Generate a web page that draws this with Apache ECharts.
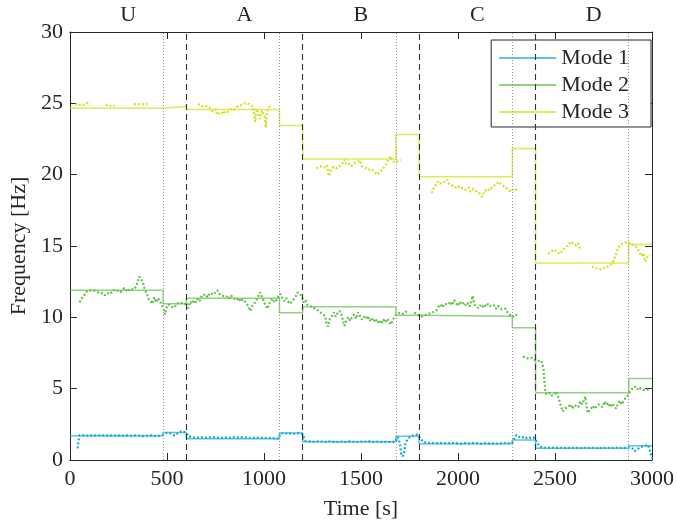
<!DOCTYPE html>
<html>
<head>
<meta charset="utf-8">
<script src="https://cdn.jsdelivr.net/npm/echarts@6/dist/echarts.min.js"></script>
<style>
  html, body { margin: 0; padding: 0; background: #fff; }
  #chart { width: 677px; height: 526px; }
</style>
</head>
<body>
<div id="chart"></div>
<script>
// Region labels along the top, one per 600 s block
const regionLabels = ['U', 'A', 'B', 'C', 'D'];

// Start time of each model segment [s]; the last one runs to the end of the record
const segmentStarts = [0, 480, 600, 1080, 1200, 1680, 1800, 2280, 2400, 2880];
const endTime = 3000;

// Model frequencies per segment [Hz]
const mode1Model = [1.70, 1.92, 1.49, 1.90, 1.28, 1.66, 1.14, 1.40, 0.82, 1.00];
const mode2Model = [11.89, 10.96, 11.33, 10.32, 10.75, 10.14, 10.07, 9.27, 4.72, 5.72];
const mode3Model = [24.66, 24.78, 24.57, 23.45, 21.10, 22.82, 19.86, 21.84, 13.80, 15.10];

// Region boundaries
const dashedLines = [600, 1200, 1800, 2400];
const dottedLines = [480, 1080, 1680, 2280, 2880];

// Identified frequencies [time s, Hz]; '-' marks gaps in the record
const mode1Measured = [
  [40, 0.82], [48, 1.72], [60, 1.74], [80, 1.72], [100, 1.70], [120, 1.73], [140, 1.71], [160, 1.74],
  [180, 1.72], [200, 1.70], [220, 1.73], [240, 1.71], [260, 1.72], [280, 1.69], [300, 1.72], [320, 1.70],
  [340, 1.73], [360, 1.71], [380, 1.68], [400, 1.70], [420, 1.72], [440, 1.69], [460, 1.70], [480, 1.75],
  [490, 1.85], [500, 1.90], [510, 1.92], [520, 1.86], [530, 1.74], [540, 1.72], [550, 1.85], [560, 1.92],
  [570, 1.98], [580, 2.03], [590, 1.96], [600, 1.90], [610, 1.65], [620, 1.60], [640, 1.58], [660, 1.57],
  [680, 1.59], [700, 1.56], [720, 1.58], [740, 1.60], [760, 1.57], [780, 1.55], [800, 1.58], [820, 1.56],
  [840, 1.59], [860, 1.57], [880, 1.60], [900, 1.58], [920, 1.56], [940, 1.55], [960, 1.58], [980, 1.56],
  [1000, 1.54], [1020, 1.55], [1040, 1.53], [1060, 1.52], [1075, 1.50], [1085, 1.85], [1100, 1.88], [1120, 1.86],
  [1140, 1.87], [1160, 1.85], [1180, 1.88], [1195, 1.86], [1205, 1.60], [1215, 1.33], [1240, 1.30], [1260, 1.28],
  [1280, 1.31], [1300, 1.29], [1320, 1.27], [1340, 1.30], [1360, 1.28], [1380, 1.26], [1400, 1.29], [1420, 1.27],
  [1440, 1.30], [1460, 1.28], [1480, 1.26], [1500, 1.29], [1520, 1.28], [1540, 1.30], [1560, 1.27], [1580, 1.29],
  [1600, 1.27], [1620, 1.28], [1640, 1.26], [1660, 1.26], [1680, 1.30], [1690, 1.60], [1700, 1.20], [1708, 0.40],
  [1715, 0.25], [1722, 0.50], [1730, 1.20], [1740, 1.45], [1750, 1.60], [1760, 1.70], [1775, 1.75], [1790, 1.78],
  [1800, 1.65], [1810, 1.45], [1820, 1.28], [1840, 1.20], [1860, 1.18], [1880, 1.20], [1900, 1.17], [1920, 1.19],
  [1940, 1.16], [1960, 1.18], [1980, 1.20], [2000, 1.17], [2020, 1.15], [2040, 1.18], [2060, 1.16], [2080, 1.19],
  [2100, 1.17], [2120, 1.15], [2140, 1.18], [2160, 1.16], [2180, 1.17], [2200, 1.15], [2220, 1.17], [2240, 1.18],
  [2260, 1.16], [2280, 1.20], [2290, 1.50], [2300, 1.75], [2308, 1.85], [2318, 1.60], [2330, 1.65], [2345, 1.50],
  [2360, 1.60], [2375, 1.55], [2390, 1.58], [2400, 1.50], [2410, 1.20], [2420, 0.95], [2440, 0.86], [2460, 0.85],
  [2480, 0.87], [2500, 0.84], [2520, 0.86], [2540, 0.85], [2560, 0.83], [2580, 0.86], [2600, 0.84], [2620, 0.85],
  [2640, 0.83], [2660, 0.86], [2680, 0.84], [2700, 0.85], [2720, 0.83], [2740, 0.84], [2760, 0.86], [2780, 0.84],
  [2800, 0.85], [2820, 0.86], [2840, 0.84], [2860, 0.86], [2880, 0.88], [2890, 0.95], [2900, 0.80], [2910, 0.62],
  [2920, 0.72], [2935, 0.86], [2950, 0.95], [2965, 1.00], [2980, 1.04], [2990, 1.00], [2997, 0.30], [3000, 0.10]
];

const mode2Measured = [
  [50, 11.05], [60, 11.30], [70, 11.50], [80, 11.65], [90, 11.85], [100, 11.75], [110, 11.90], [120, 11.95],
  [130, 11.85], [140, 11.90], [150, 11.70], [160, 11.60], [170, 11.70], [180, 11.55], [190, 11.70], [200, 11.75],
  [210, 11.65], [220, 11.90], [230, 12.00], [240, 11.90], [250, 11.85], [260, 11.75], [270, 11.90], [280, 12.05],
  [290, 11.95], [300, 11.80], [310, 12.00], [320, 12.10], [330, 11.95], [340, 12.15], [350, 12.50], [358, 12.85],
  [366, 12.75], [375, 12.50], [385, 12.00], [395, 11.70], [405, 11.30], [415, 11.15], [425, 10.95], [435, 11.40],
  [445, 11.05], [455, 11.35], [465, 11.10], [475, 10.85], [483, 10.60], [490, 10.20], [500, 10.75], [510, 10.90],
  [520, 10.75], [530, 10.85], [540, 10.70], [550, 10.95], [560, 10.85], [570, 11.05], [580, 11.10], [590, 10.90],
  [600, 11.05], [610, 10.65], [620, 11.10], [630, 10.95], [640, 11.20], [650, 11.05], [660, 11.30], [670, 11.15],
  [680, 11.55], [690, 11.45], [700, 11.60], [710, 11.40], [720, 11.70], [730, 11.80], [740, 11.60], [750, 11.75],
  [760, 11.90], [770, 11.65], [780, 11.75], [790, 11.50], [800, 11.60], [810, 11.45], [820, 11.30], [830, 11.55],
  [840, 11.35], [850, 11.40], [860, 11.20], [870, 11.35], [880, 11.10], [890, 11.25], [900, 11.30], [910, 11.00],
  [920, 10.75], [930, 10.45], [940, 10.80], [950, 10.95], [960, 11.20], [970, 11.40], [980, 11.75], [990, 11.45],
  [1000, 11.10], [1010, 10.80], [1018, 10.60], [1025, 10.90], [1035, 11.15], [1045, 11.30], [1055, 11.05], [1065, 11.20],
  [1075, 11.50], [1085, 11.65], [1095, 11.30], [1105, 11.15], [1115, 11.35], [1125, 11.10], [1135, 10.95], [1145, 11.05],
  [1155, 11.30], [1165, 11.50], [1175, 11.75], [1185, 11.85], [1195, 11.50], [1205, 11.05], [1215, 11.20], [1225, 10.85],
  [1235, 10.90], [1245, 10.75], [1255, 10.80], [1265, 10.60], [1275, 10.70], [1285, 10.45], [1295, 10.30], [1305, 10.40],
  [1315, 10.10], [1322, 9.60], [1330, 9.35], [1340, 9.90], [1350, 10.10], [1360, 10.35], [1370, 10.05], [1380, 10.30],
  [1390, 10.45], [1400, 10.20], [1408, 9.70], [1415, 9.40], [1425, 9.80], [1435, 10.00], [1445, 9.75], [1455, 10.05],
  [1465, 10.20], [1475, 9.90], [1485, 10.35], [1495, 10.10], [1505, 9.85], [1515, 10.05], [1525, 9.90], [1535, 10.10],
  [1545, 9.75], [1555, 9.95], [1565, 9.70], [1575, 9.90], [1585, 9.60], [1595, 9.80], [1605, 9.55], [1615, 9.85],
  [1625, 9.65], [1635, 9.90], [1645, 9.70], [1655, 9.50], [1665, 9.85], [1675, 9.95], [1685, 10.25], [1700, 10.30],
  [1715, 10.25], [1730, 10.40], [1745, 10.35], [1760, '-'], [1775, 10.35], [1790, 10.20], [1800, 10.10], [1810, 10.05],
  [1820, 10.00], [1830, 10.15], [1840, 10.10], [1850, 10.25], [1860, 10.20], [1870, 10.35], [1880, 10.30], [1890, 10.50],
  [1900, 10.75], [1910, 10.90], [1920, 10.70], [1930, 10.95], [1940, 11.05], [1950, 10.90], [1960, 11.10], [1970, 10.85],
  [1980, 11.20], [1990, 11.00], [2000, 10.80], [2010, 11.10], [2020, 10.90], [2030, 11.05], [2040, 10.85], [2050, 11.00],
  [2060, 10.75], [2070, 11.20], [2075, 11.50], [2085, 10.90], [2095, 10.80], [2105, 10.65], [2115, 10.85], [2125, 10.70],
  [2135, 10.90], [2145, 10.75], [2155, 10.95], [2165, 10.80], [2175, 10.70], [2185, 10.85], [2195, 10.60], [2205, 10.80],
  [2215, 10.70], [2225, 10.55], [2235, 10.45], [2245, 10.60], [2255, 10.35], [2265, 10.20], [2275, 10.10], [2285, 10.05],
  [2295, 10.20], [2305, 10.15], [2320, '-'], [2335, 7.25], [2350, 7.15], [2365, 7.10], [2380, 7.15], [2395, 7.00],
  [2410, 6.95], [2420, 6.85], [2430, 6.95], [2440, 6.50], [2445, 5.60], [2450, 4.90], [2455, 4.60], [2465, 4.55],
  [2475, 4.70], [2485, 4.50], [2495, 4.65], [2505, 4.80], [2515, 4.70], [2520, 4.30], [2530, 3.80], [2540, 3.40],
  [2550, 3.60], [2560, 3.50], [2570, 3.75], [2580, 3.90], [2590, 3.60], [2600, 3.85], [2610, 3.95], [2620, 3.70],
  [2630, 4.10], [2640, 3.90], [2650, 4.20], [2656, 4.45], [2662, 3.90], [2668, 3.30], [2675, 3.20], [2685, 3.60],
  [2695, 3.80], [2705, 3.60], [2715, 3.75], [2725, 3.90], [2735, 4.00], [2745, 3.70], [2755, 4.10], [2765, 3.85],
  [2775, 4.00], [2785, 3.70], [2795, 3.95], [2805, 4.05], [2815, 3.60], [2825, 3.95], [2835, 4.15], [2845, 3.90],
  [2855, 4.20], [2865, 4.30], [2875, 4.50], [2885, 4.75], [2895, 4.95], [2905, 5.05], [2915, 5.15], [2925, 4.95],
  [2935, 5.10], [2945, 4.95], [2955, 5.05], [2965, 4.90], [2975, 5.00], [2985, 4.95], [2995, 5.00]
];

const mode3Measured = [
  [30, 25.00], [45, 24.85], [60, 24.95], [75, 24.90], [90, 25.05], [105, 24.95], [140, '-'],
  [185, 24.90], [200, 24.80], [215, 24.85], [230, 24.80], [280, '-'],
  [330, 24.95], [350, 24.95], [370, 24.95], [390, 24.95], [400, 24.98], [500, '-'],
  [660, 24.95], [675, 24.85], [690, 24.75], [705, 24.80], [720, 24.70], [735, 24.45], [750, 24.60], [760, 24.20],
  [770, 24.10], [780, 24.40], [790, 24.25], [800, 24.45], [815, 24.40], [830, 24.60], [845, 24.55], [860, 24.75],
  [875, 24.80], [890, 24.95], [905, 25.00], [915, 25.05], [925, 24.95], [935, 24.90], [945, 24.75], [955, 23.70],
  [962, 24.60], [970, 24.30], [980, 23.90], [990, 24.50], [1000, 24.55], [1005, 24.00], [1010, 23.30], [1015, 24.30],
  [1025, 24.70], [1035, 24.95], [1100, '-'],
  [1270, 20.45], [1285, 20.55], [1300, 20.60], [1315, 20.50], [1325, 20.65], [1335, 19.90], [1345, 20.30], [1360, 20.55],
  [1375, 20.45], [1390, 20.60], [1405, 20.80], [1415, 21.05], [1425, 20.70], [1440, 20.75], [1450, 20.60], [1465, 20.80],
  [1480, 20.90], [1495, 21.00], [1505, 20.60], [1515, 20.65], [1525, 20.45], [1540, 20.35], [1555, 20.40], [1570, 20.20],
  [1585, 20.00], [1595, 19.90], [1605, 20.30], [1615, 20.45], [1625, 20.60], [1640, 21.00], [1652, 21.30], [1662, 21.00],
  [1675, 20.85], [1690, 20.95], [1705, 21.05], [1780, '-'],
  [1865, 18.70], [1875, 19.10], [1885, 19.30], [1895, 19.50], [1905, 19.35], [1920, 19.45], [1935, 19.50], [1945, 19.65],
  [1955, 19.35], [1965, 19.40], [1980, 19.20], [1995, 19.05], [2010, 19.20], [2025, 19.00], [2040, 18.95], [2055, 19.10],
  [2065, 18.80], [2080, 19.00], [2095, 18.85], [2110, 18.70], [2125, 18.45], [2135, 18.80], [2150, 19.00], [2165, 18.90],
  [2180, 19.20], [2195, 19.30], [2210, 19.50], [2225, 19.30], [2240, 19.15], [2255, 19.00], [2270, 18.80], [2285, 19.00],
  [2300, 18.95], [2315, 18.85], [2380, '-'],
  [2465, 14.45], [2480, 14.60], [2495, 14.75], [2510, 14.60], [2525, 14.45], [2540, 14.70], [2555, 14.90], [2570, 15.10],
  [2580, 15.30], [2595, 15.15], [2610, 15.05], [2620, 15.20], [2630, 14.70], [2660, '-'],
  [2690, 13.55], [2705, 13.45], [2720, 13.40], [2735, 13.35], [2750, 13.45], [2765, 13.50], [2780, 13.65], [2795, 13.75],
  [2805, 14.10], [2815, 14.45], [2825, 14.90], [2840, 15.10], [2855, 15.20], [2870, 15.30], [2880, 15.35], [2915, 15.00],
  [2925, 14.90], [2935, 14.60], [2945, 14.30], [2955, 14.50], [2965, 13.90], [2975, 14.20], [2990, 14.40]
];

const colors = {
  mode1: '#17a9d4',
  mode2: '#62c24a',
  mode3: '#d3e01a'
};

const font = 'Liberation Serif';
const fontSize = 22;
const ink = '#262626';

function stepData(values) {
  const pts = segmentStarts.map((t, i) => [t, values[i]]);
  pts.push([endTime, values[values.length - 1]]);
  return pts;
}

function modelSeries(name, values, color, extra) {
  return Object.assign({
    name: name,
    type: 'line',
    step: 'end',
    data: stepData(values),
    symbol: 'none',
    color: color,
    lineStyle: { color: color, width: 1.5, opacity: 0.7 },
    itemStyle: { color: color, opacity: 0.7 },
    animation: false,
    z: 3
  }, extra || {});
}

function measuredSeries(name, data, color) {
  return {
    name: name,
    type: 'line',
    data: data,
    symbol: 'none',
    connectNulls: false,
    lineStyle: { color: color, width: 2.2, type: [2, 2] },
    animation: false,
    z: 4
  };
}

const boundaryLines = dashedLines.map(x => ({
  xAxis: x,
  lineStyle: { color: '#333', type: [6, 4], width: 1.1 }
})).concat(dottedLines.map(x => ({
  xAxis: x,
  lineStyle: { color: '#9a9a9a', type: [1, 2], width: 1 }
})));

const plainNumber = v => String(v);

const tickStyle = { show: true, inside: true, length: 7, lineStyle: { color: ink, width: 1 } };
const labelText = { fontFamily: font, fontSize: fontSize, color: ink };

const chart = echarts.init(document.getElementById('chart'), null, { renderer: 'canvas' });

chart.setOption({
  backgroundColor: '#fff',
  animation: false,
  grid: { left: 68, right: 25, top: 32, bottom: 66, containLabel: false },
  legend: {
    data: ['Mode 1', 'Mode 2', 'Mode 3'],
    icon: 'rect',
    orient: 'vertical',
    right: 26,
    top: 40,
    itemWidth: 57,
    itemHeight: 2,
    itemGap: 5,
    padding: [7, 22, 4, 8],
    borderColor: ink,
    borderWidth: 1,
    backgroundColor: '#fff',
    textStyle: Object.assign({ lineHeight: 22 }, labelText)
  },
  xAxis: [
    {
      type: 'value', position: 'bottom', min: 0, max: 3000, interval: 500,
      name: 'Time [s]', nameLocation: 'middle', nameGap: 38,
      nameTextStyle: labelText,
      axisLine: { show: true, onZero: false, lineStyle: { color: ink, width: 1 } },
      axisTick: tickStyle,
      axisLabel: Object.assign({ margin: 8, formatter: plainNumber }, labelText),
      splitLine: { show: false }
    },
    {
      type: 'value', position: 'top', min: 0, max: 3000, interval: 500,
      axisLine: { show: true, onZero: false, lineStyle: { color: ink, width: 1 } },
      axisTick: tickStyle,
      axisLabel: { show: false },
      splitLine: { show: false }
    },
    {
      type: 'category', position: 'top', data: regionLabels, boundaryGap: true,
      axisLine: { show: false, onZero: false },
      axisTick: { show: false },
      axisLabel: Object.assign({ margin: 6 }, labelText),
      splitLine: { show: false }
    }
  ],
  yAxis: [
    {
      type: 'value', position: 'left', min: 0, max: 30, interval: 5,
      name: 'Frequency [Hz]', nameLocation: 'middle', nameGap: 35, nameRotate: 90,
      nameTextStyle: labelText,
      axisLine: { show: true, onZero: false, lineStyle: { color: ink, width: 1 } },
      axisTick: tickStyle,
      axisLabel: Object.assign({ margin: 7, formatter: plainNumber }, labelText),
      splitLine: { show: false }
    },
    {
      type: 'value', position: 'right', min: 0, max: 30, interval: 5,
      axisLine: { show: true, onZero: false, lineStyle: { color: ink, width: 1 } },
      axisTick: tickStyle,
      axisLabel: { show: false },
      splitLine: { show: false }
    }
  ],
  series: [
    modelSeries('Mode 1', mode1Model, colors.mode1, {
      markLine: {
        silent: true,
        symbol: 'none',
        label: { show: false },
        animation: false,
        data: boundaryLines
      }
    }),
    modelSeries('Mode 2', mode2Model, colors.mode2),
    modelSeries('Mode 3', mode3Model, colors.mode3),
    measuredSeries('Mode 1 identified', mode1Measured, colors.mode1),
    measuredSeries('Mode 2 identified', mode2Measured, colors.mode2),
    measuredSeries('Mode 3 identified', mode3Measured, colors.mode3)
  ]
});
</script>
</body>
</html>
